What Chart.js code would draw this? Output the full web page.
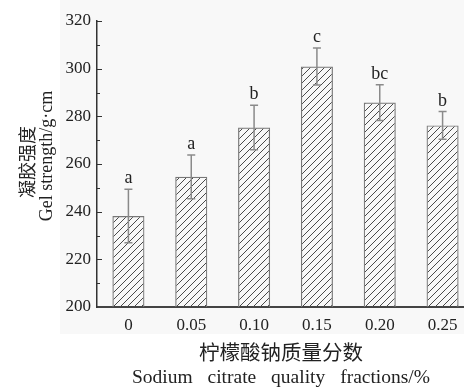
<!DOCTYPE html>
<html>
<head>
<meta charset="utf-8">
<script src="https://cdn.jsdelivr.net/npm/chart.js@4.4.0/dist/chart.umd.min.js"></script>
<style>
  html, body { margin: 0; padding: 0; background: #fff; overflow: hidden; }
  #wrap { width: 476px; height: 387px; }
</style>
</head>
<body>
<div id="wrap"><canvas id="myChart" width="476" height="387"></canvas></div>
<script>
const fractions = ["0", "0.05", "0.10", "0.15", "0.20", "0.25"]
const gelStrength = [238.2, 254.6, 275.3, 300.9, 285.8, 276.2]
const stdDev = [11.2, 9.2, 9.3, 7.8, 7.5, 5.8]
const letters = ["a", "a", "b", "c", "bc", "b"]
const yTicks = [200, 220, 240, 260, 280, 300, 320]

const serif = "'Liberation Serif', 'DejaVu Serif', serif"
const cjk = "'Noto Sans CJK SC', sans-serif"

// diagonal hatch for the bars
const makeHatch = () => {
  const size = 7
  const c = document.createElement("canvas")
  c.width = size
  c.height = size
  const g = c.getContext("2d")
  g.strokeStyle = "#4a4a4a"
  g.lineWidth = 1
  g.beginPath()
  g.moveTo(-1, size + 1)
  g.lineTo(size + 1, -1)
  g.moveTo(-1, 1)
  g.lineTo(1, -1)
  g.moveTo(size - 1, size + 1)
  g.lineTo(size + 1, size - 1)
  g.stroke()
  return g.createPattern(c, "repeat")
}

const extras = {
  id: "extras",
  beforeDraw(chart) {
    const { ctx, chartArea } = chart
    ctx.save()
    ctx.fillStyle = "#f8f8f8"
    ctx.fillRect(chartArea.left - 37, 0, chart.width, chartArea.bottom + 27)
    ctx.restore()
  },
  afterDatasetsDraw(chart) {
    const { ctx, scales } = chart
    const meta = chart.getDatasetMeta(0)
    ctx.save()
    // error bars
    ctx.strokeStyle = "#8a8a8a"
    ctx.lineWidth = 1.5
    meta.data.forEach((bar, i) => {
      const top = scales.y.getPixelForValue(gelStrength[i] + stdDev[i])
      const bot = scales.y.getPixelForValue(gelStrength[i] - stdDev[i])
      ctx.beginPath()
      ctx.moveTo(bar.x, top)
      ctx.lineTo(bar.x, bot)
      ctx.moveTo(bar.x - 4, top)
      ctx.lineTo(bar.x + 4, top)
      ctx.moveTo(bar.x - 4, bot)
      ctx.lineTo(bar.x + 4, bot)
      ctx.stroke()
      // significance letters
      ctx.fillStyle = "#222"
      ctx.font = "18px " + serif
      ctx.textAlign = "center"
      ctx.textBaseline = "alphabetic"
      ctx.fillText(letters[i], bar.x, top - 6)
    })
    ctx.restore()
  },
  afterDraw(chart) {
    const { ctx, chartArea, scales } = chart
    ctx.save()
    // inward ticks on y axis, minor every 10
    ctx.strokeStyle = "#333"
    ctx.lineWidth = 1
    for (let v = yTicks[0] + 10; v <= yTicks[yTicks.length - 1]; v += 10) {
      const y = Math.round(scales.y.getPixelForValue(v)) + 0.5
      const len = v % 20 === 0 ? 5 : 3
      ctx.beginPath()
      ctx.moveTo(chartArea.left, y)
      ctx.lineTo(chartArea.left + len, y)
      ctx.stroke()
    }
    ctx.fillStyle = "#222"
    ctx.textAlign = "center"
    ctx.textBaseline = "middle"
    const midY = (chartArea.top + chartArea.bottom) / 2
    // y title (two lines, rotated)
    ctx.save()
    ctx.translate(27, midY - 2)
    ctx.rotate(-Math.PI / 2)
    ctx.font = "18px " + cjk
    ctx.fillText("凝胶强度", 0, 0)
    ctx.restore()
    ctx.save()
    ctx.translate(47, midY - 8)
    ctx.rotate(-Math.PI / 2)
    ctx.font = "18px " + serif
    ctx.fillText("Gel strength/g·cm", 0, 0)
    ctx.restore()
    // x title
    const midX = 281
    ctx.font = "20.5px " + cjk
    ctx.fillText("柠檬酸钠质量分数", midX, chartArea.bottom + 45)
    ctx.font = "19.5px " + serif
    ctx.wordSpacing = "10px"
    ctx.fillText("Sodium citrate quality fractions/%", midX, chartArea.bottom + 71)
    ctx.restore()
  }
}

new Chart(document.getElementById("myChart"), {
  type: "bar",
  data: {
    labels: fractions,
    datasets: [
      {
        data: gelStrength,
        backgroundColor: makeHatch(),
        borderColor: "#777",
        borderWidth: 1.2,
        barPercentage: 0.51,
        categoryPercentage: 1,
      },
    ],
  },
  options: {
    responsive: false,
    animation: false,
    layout: { padding: { top: 21, right: 2, left: 0, bottom: 0 } },
    plugins: {
      legend: { display: false },
      tooltip: { enabled: false },
    },
    scales: {
      x: {
        grid: { display: false, drawTicks: false },
        border: { color: "#444", width: 2 },
        ticks: { color: "#222", font: { family: serif, size: 17 }, padding: 8 },
        afterFit: scale => { scale.height = 80 },
      },
      y: {
        min: yTicks[0],
        max: yTicks[yTicks.length - 1],
        afterBuildTicks: scale => { scale.ticks = yTicks.map(v => ({ value: v })) },
        grid: { drawOnChartArea: false, drawTicks: false },
        border: { color: "#333", width: 1.5 },
        ticks: { color: "#222", font: { family: serif, size: 17 }, padding: 6 },
        afterFit: scale => { scale.width = 97 },
      },
    },
  },
  plugins: [extras],
})
</script>
</body>
</html>
